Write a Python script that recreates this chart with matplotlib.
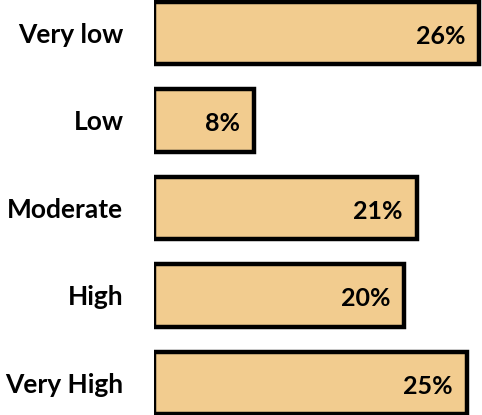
import matplotlib.pyplot as plt

categories = ['Very low', 'Low', 'Moderate', 'High', 'Very High']
shares = [26, 8, 21, 20, 25]
value_labels = ['26%', '8%', '21%', '20%', '25%']

plt.rcParams['font.family'] = ['Lato', 'DejaVu Sans']

fig = plt.figure(figsize=(4.82, 4.15), dpi=100)
ax = fig.add_axes([154 / 482, 0, 328 / 482, 1])

ypos = list(range(len(categories)))
ax.barh(ypos, shares, height=0.71, color='#F2CC8F', edgecolor='black',
        linewidth=3.2, zorder=2)

for y, v, txt in zip(ypos, shares, value_labels):
    ax.text(v - 1.1, y + 0.04, txt, ha='right', va='center',
            fontsize=18, fontweight='bold', color='black')

ax.set_xlim(0, 26.24)
ax.set_ylim(4.366, -0.377)
ax.set_yticks(ypos)
ax.set_yticklabels(categories, fontsize=19, fontweight='bold')
ax.tick_params(axis='y', length=0, pad=22)
ax.set_xticks([])
for s in ax.spines.values():
    s.set_visible(False)

fig.savefig('out.png', dpi=100)
